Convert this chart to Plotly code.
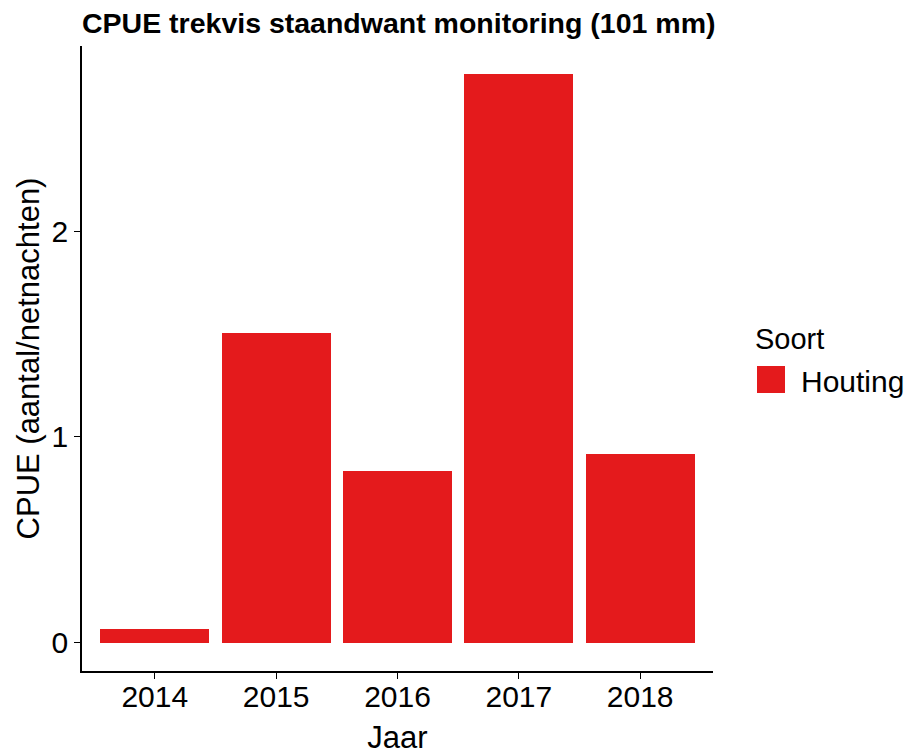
import plotly.graph_objects as go

# data
jaren = ['2014', '2015', '2016', '2017', '2018']
cpue = [0.067, 1.506, 0.832, 2.762, 0.917]
soort = 'Houting'
legend_titel = 'Soort'
kleur = '#E41A1C'

W, H = 910, 755
L, R, T, B = 82, 197, 46, 84
FONT = 'Liberation Sans, Arial, sans-serif'

# ggplot-like 5% expansion of the y scale
ymax = max(cpue)
yrange = [-0.05 * ymax, 1.05 * ymax]


def px(x):
    # pixel x -> paper x
    return (x - L) / (W - L - R)


def py(y):
    # pixel y -> paper y
    return (H - B - y) / (H - T - B)


fig = go.Figure(
    go.Bar(
        x=jaren,
        y=cpue,
        width=0.9,
        name=soort,
        marker=dict(color=kleur, line=dict(width=0)),
        showlegend=False,
    )
)

axis_common = dict(
    showline=True,
    linecolor='black',
    linewidth=1.5,
    showgrid=False,
    zeroline=False,
    ticks='outside',
    ticklen=6,
    tickwidth=1.3,
    tickcolor='black',
    tickfont=dict(family=FONT, size=30, color='black'),
)

fig.update_xaxes(
    **axis_common,
    type='category',
    range=[-0.6, len(jaren) - 0.4],
    ticklabelstandoff=-8,
    title=dict(text='Jaar', font=dict(family=FONT, size=31, color='black'), standoff=17),
)
fig.update_yaxes(
    **axis_common,
    range=yrange,
    tickvals=[0, 1, 2],
    title=dict(text='CPUE (aantal/netnachten)', font=dict(family=FONT, size=31, color='black'), standoff=3),
)

# legend drawn by hand so the key matches ggplot's size
fig.add_shape(
    type='rect', xref='paper', yref='paper',
    x0=px(757), x1=px(785), y0=py(393), y1=py(366),
    fillcolor=kleur, line=dict(width=0),
)
fig.add_annotation(
    text=legend_titel, xref='paper', yref='paper', x=px(753), y=py(339),
    xanchor='left', yanchor='middle', showarrow=False,
    font=dict(family=FONT, size=29, color='black'),
)
fig.add_annotation(
    text=soort, xref='paper', yref='paper', x=px(799), y=py(381),
    xanchor='left', yanchor='middle', showarrow=False,
    font=dict(family=FONT, size=30, color='black'),
)

fig.update_layout(
    width=W,
    height=H,
    margin=dict(l=L, r=R, t=T, b=B, autoexpand=False),
    plot_bgcolor='white',
    paper_bgcolor='white',
    bargap=0,
    showlegend=False,
    title=dict(
        text='<b>CPUE trekvis staandwant monitoring (101 mm)</b>',
        font=dict(family=FONT, size=28.5, color='black'),
        xref='paper', x=0, xanchor='left',
        yref='container', y=1 - 23 / H, yanchor='middle',
    ),
)

# page body has a default 8px margin; drop it so the figure fills the window
fig.write_html(
    'out.html',
    config={'displayModeBar': False},
    post_script="document.body.style.margin='0';",
)
